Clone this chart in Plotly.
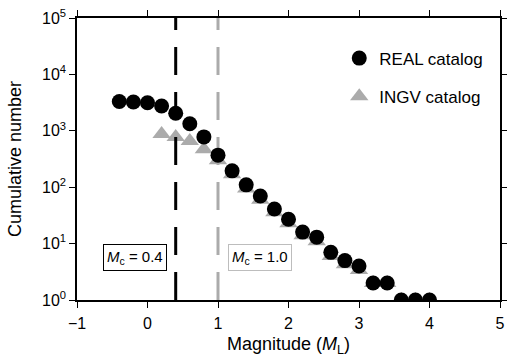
import plotly.graph_objects as go

# Data
mag_real = [-0.4, -0.2, 0.0, 0.2, 0.4, 0.6, 0.8, 1.0, 1.2, 1.4, 1.6, 1.8, 2.0,
            2.2, 2.4, 2.6, 2.8, 3.0, 3.2, 3.4, 3.6, 3.8, 4.0]
n_real = [3300, 3250, 3150, 2750, 2050, 1330, 780, 370, 195, 110, 70, 41, 27,
          16, 13, 7, 5, 4, 2, 2, 1, 1, 1]
mag_ingv = [0.2, 0.4, 0.6, 0.8, 1.0, 1.2, 1.4, 1.6, 1.8, 2.0, 2.2, 2.4, 2.6,
            2.8, 3.0, 3.2, 3.4, 3.6, 3.8, 4.0]
n_ingv = [880, 780, 660, 470, 300, 170, 95, 60, 36, 23, 14, 11, 6,
          4.3, 3.4, 2, 2, 1, 1, 1]
mc_real = 0.4
mc_ingv = 1.0
y_span = [1, 1e5]
ytick_vals = [1, 10, 100, 1000, 10000, 100000]
ytick_text = ["10<sup>%d</sup>" % i for i in range(6)]
xtick_vals = [-1, 0, 1, 2, 3, 4, 5]
xtick_text = ["\u22121", "0", "1", "2", "3", "4", "5"]

GRAY = "#ababab"
FONT = "Liberation Sans, Arial, sans-serif"

fig = go.Figure()
fig.add_trace(go.Scatter(x=mag_ingv, y=n_ingv, mode="markers", name="INGV catalog",
                         legendgroup="b", legendrank=2,
                         marker=dict(symbol="triangle-up", size=16, color=GRAY,
                                     line=dict(width=0))))
fig.add_trace(go.Scatter(x=[mc_real, mc_real], y=y_span, mode="lines", showlegend=False,
                         line=dict(color="black", width=3, dash="28px,17px"),
                         hoverinfo="skip"))
fig.add_trace(go.Scatter(x=[mc_ingv, mc_ingv], y=y_span, mode="lines", showlegend=False,
                         line=dict(color=GRAY, width=3, dash="28px,17px"),
                         hoverinfo="skip"))
fig.add_trace(go.Scatter(x=mag_real, y=n_real, mode="markers", name="REAL catalog",
                         legendgroup="a", legendrank=1,
                         marker=dict(symbol="circle", size=15, color="black",
                                     line=dict(width=0))))

fig.add_annotation(x=0.28, y=0.76, xref="x", yref="y", xanchor="right", yanchor="middle",
                   text="<i>M</i><sub>c</sub> = %.1f" % mc_real, showarrow=False,
                   font=dict(family=FONT, size=15, color="black"),
                   bordercolor="black", borderwidth=1, borderpad=3, bgcolor="white")
fig.add_annotation(x=1.14, y=0.76, xref="x", yref="y", xanchor="left", yanchor="middle",
                   text="<i>M</i><sub>c</sub> = %.1f" % mc_ingv, showarrow=False,
                   font=dict(family=FONT, size=15, color="black"),
                   bordercolor="#bdbdbd", borderwidth=1, borderpad=3, bgcolor="white")

axis_common = dict(showline=True, linecolor="black", linewidth=1.5, mirror="ticks",
                   ticks="outside", ticklen=6, tickwidth=1.2, tickcolor="black",
                   showgrid=False, zeroline=False, automargin=False,
                   tickfont=dict(family=FONT, size=16, color="black"))
fig.update_xaxes(range=[-1, 5], tickvals=xtick_vals, ticktext=xtick_text,
                 ticklabelstandoff=2,
                 title=dict(text="Magnitude (<i>M</i><sub>L</sub>)",
                            font=dict(family=FONT, size=18, color="black"), standoff=8),
                 **axis_common)
fig.update_yaxes(type="log", range=[0, 5], tickvals=ytick_vals, ticktext=ytick_text,
                 title=dict(text="Cumulative number",
                            font=dict(family=FONT, size=18, color="black"), standoff=16),
                 **axis_common)

fig.update_layout(width=507, height=357, margin=dict(l=77, r=7, t=18, b=57),
                  paper_bgcolor="white", plot_bgcolor="white",
                  font=dict(family=FONT, color="black"),
                  legend=dict(x=0.62, y=0.92, xanchor="left", yanchor="top",
                              bgcolor="rgba(0,0,0,0)", tracegroupgap=13,
                              font=dict(family=FONT, size=17, color="black")),
                  showlegend=True)

fig.write_html("out.html", config={"displayModeBar": False},
               post_script="document.body.style.margin='0';document.body.style.padding='0';")
